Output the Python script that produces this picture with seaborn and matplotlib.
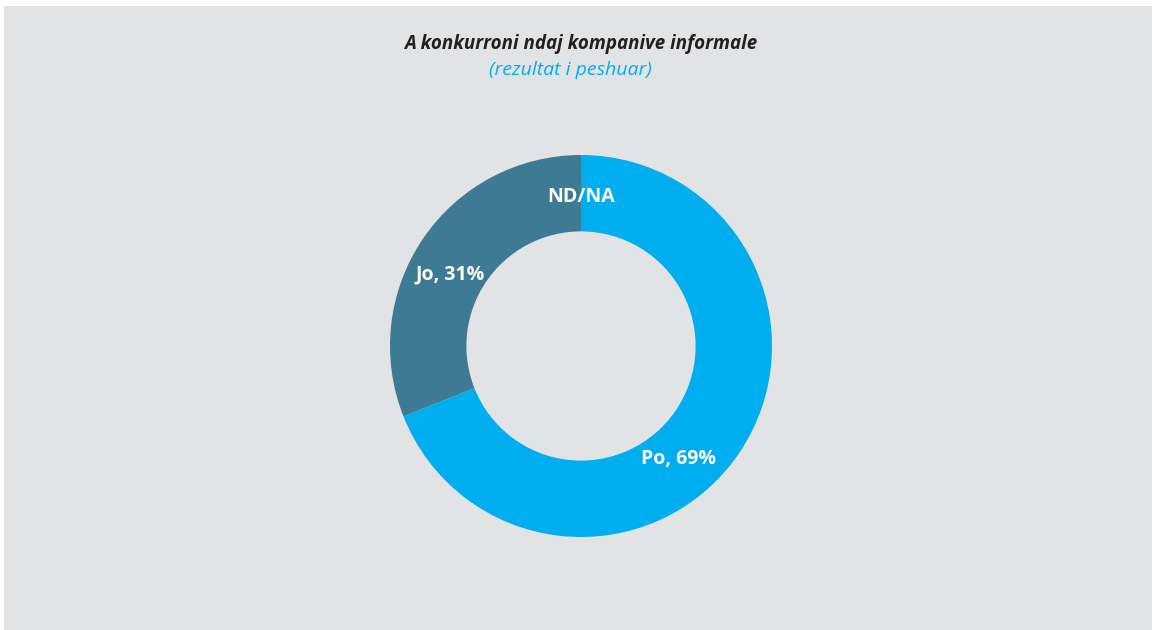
import numpy as np
import matplotlib
matplotlib.use("Agg")
import matplotlib.pyplot as plt
from matplotlib.patches import Rectangle
import seaborn as sns

# Survey answers
categories = ["Po", "Jo", "ND/NA"]
shares = [69, 31, 0]
slice_labels = ["Po, 69%", "Jo, 31%", "ND/NA"]

title_text = "A konkurroni ndaj kompanive informale"
subtitle_text = "(rezultat i peshuar)"

sns.set_theme(style="white")
plt.rcParams["font.family"] = ["Open Sans", "DejaVu Sans"]

colors = ["#00adef", "#3d7a93", "#8a8c8e"]
bg = "#e2e3e5"

W, H = 1152, 630
fig = plt.figure(figsize=(W / 100, H / 100), dpi=100, facecolor="white")

# grey panel behind the chart
fig.patches.append(Rectangle((4 / W, 0), 1 - 4 / W, 1 - 6 / H,
                             transform=fig.transFigure, facecolor=bg,
                             edgecolor="none", zorder=-5))

# donut axes, centred on the panel
cx, cy, R = 581, 346, 191
ax = fig.add_axes([(cx - R) / W, (H - cy - R) / H, 2 * R / W, 2 * R / H])
ax.set_facecolor("none")
ax.set_zorder(2)
wedges, _ = ax.pie(shares, colors=colors, startangle=90, counterclock=False,
                   radius=1.0, wedgeprops=dict(width=0.40, linewidth=0))
ax.set_xlim(-1, 1)
ax.set_ylim(-1, 1)
ax.set_aspect("equal")
ax.axis("off")

# labels placed along each wedge, inside the ring
label_pos = [0.44, 0.55, 0.5]
ring_r = 0.78
for w, lab, f in zip(wedges, slice_labels, label_pos):
    ang = np.deg2rad(w.theta1 + (w.theta2 - w.theta1) * f)
    ax.text(ring_r * np.cos(ang), ring_r * np.sin(ang), lab,
            ha="center", va="center", color="white",
            fontsize=14, fontweight="bold")

fig.text(581 / W, 1 - 44 / H, title_text, ha="center", va="center",
         fontsize=13.5, fontweight="bold", fontstyle="italic", color="#231f20")
fig.text(570 / W, 1 - 70 / H, subtitle_text, ha="center", va="center",
         fontsize=14, fontstyle="italic", color="#00adef")

fig.savefig("out.png", dpi=100, facecolor="white")
